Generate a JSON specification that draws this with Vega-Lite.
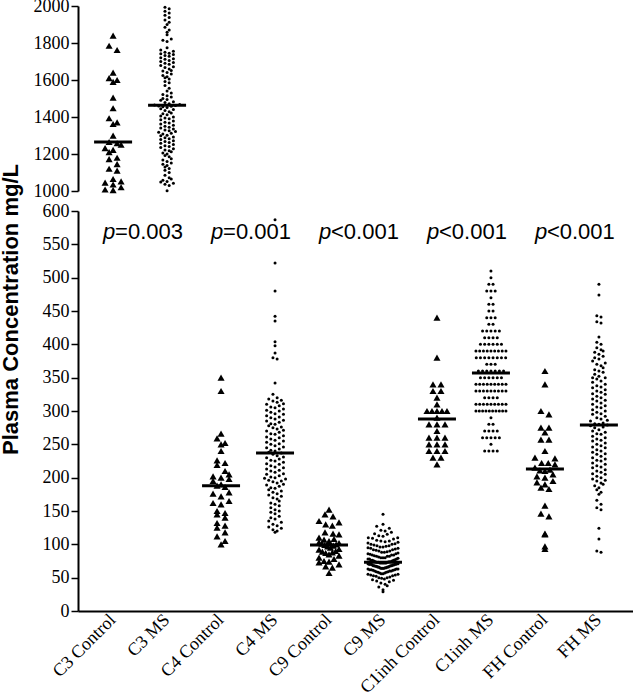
{
"$schema":"https://vega.github.io/schema/vega-lite/v6.json",
"padding":{"left":-2,"top":-3,"right":0,"bottom":0},
"background":"white",
"bounds":"flush",
"config":{"view":{"stroke":null}},
"spacing":20,
"datasets":{
"med":[{"g":"C3 Control","v":1265},{"g":"C3 MS","v":1463},{"g":"C4 Control","v":188},{"g":"C4 MS","v":237},{"g":"C9 Control","v":99},{"g":"C9 MS","v":73},{"g":"C1inh Control","v":288},{"g":"C1inh MS","v":357},{"g":"FH Control","v":213},{"g":"FH MS","v":279}],
"pv":[{"g":"C3 Control","t":"=0.003","v":568},{"g":"C4 Control","t":"=0.001","v":568},{"g":"C9 Control","t":"<0.001","v":568},{"g":"C1inh Control","t":"<0.001","v":568},{"g":"FH Control","t":"<0.001","v":568}],
"pts":[
{"g":"C3 Control","v":1840},{"g":"C3 Control","v":1785},{"g":"C3 Control","v":1762},{"g":"C3 Control","v":1640},{"g":"C3 Control","v":1610},{"g":"C3 Control","v":1600},{"g":"C3 Control","v":1590},{"g":"C3 Control","v":1505},{"g":"C3 Control","v":1447},{"g":"C3 Control","v":1393},{"g":"C3 Control","v":1371},{"g":"C3 Control","v":1362},{"g":"C3 Control","v":1299},{"g":"C3 Control","v":1265},{"g":"C3 Control","v":1258},{"g":"C3 Control","v":1250},{"g":"C3 Control","v":1232},{"g":"C3 Control","v":1222},{"g":"C3 Control","v":1210},{"g":"C3 Control","v":1180},{"g":"C3 Control","v":1172},{"g":"C3 Control","v":1145},{"g":"C3 Control","v":1120},{"g":"C3 Control","v":1110},{"g":"C3 Control","v":1065},{"g":"C3 Control","v":1052},{"g":"C3 Control","v":1045},{"g":"C3 Control","v":1035},{"g":"C3 Control","v":1020},{"g":"C3 Control","v":1008},{"g":"C3 Control","v":1005},
{"g":"C3 MS","v":1993},{"g":"C3 MS","v":1985},{"g":"C3 MS","v":1972},{"g":"C3 MS","v":1962},{"g":"C3 MS","v":1950},{"g":"C3 MS","v":1938},{"g":"C3 MS","v":1925},{"g":"C3 MS","v":1912},{"g":"C3 MS","v":1900},{"g":"C3 MS","v":1885},{"g":"C3 MS","v":1870},{"g":"C3 MS","v":1858},{"g":"C3 MS","v":1845},{"g":"C3 MS","v":1822},{"g":"C3 MS","v":1815},{"g":"C3 MS","v":1808},
{"g":"C3 MS","v":1775},{"g":"C3 MS","v":1762},{"g":"C3 MS","v":1755},{"g":"C3 MS","v":1750},{"g":"C3 MS","v":1745},{"g":"C3 MS","v":1742},{"g":"C3 MS","v":1738},{"g":"C3 MS","v":1732},{"g":"C3 MS","v":1728},{"g":"C3 MS","v":1720},{"g":"C3 MS","v":1715},{"g":"C3 MS","v":1712},{"g":"C3 MS","v":1705},{"g":"C3 MS","v":1700},{"g":"C3 MS","v":1695},{"g":"C3 MS","v":1690},{"g":"C3 MS","v":1685},{"g":"C3 MS","v":1678},{"g":"C3 MS","v":1672},{"g":"C3 MS","v":1668},{"g":"C3 MS","v":1660},{"g":"C3 MS","v":1652},{"g":"C3 MS","v":1648},{"g":"C3 MS","v":1640},{"g":"C3 MS","v":1632},{"g":"C3 MS","v":1625},{"g":"C3 MS","v":1618},{"g":"C3 MS","v":1612},{"g":"C3 MS","v":1605},
{"g":"C3 MS","v":1592},{"g":"C3 MS","v":1585},{"g":"C3 MS","v":1570},{"g":"C3 MS","v":1555},{"g":"C3 MS","v":1540},{"g":"C3 MS","v":1530},{"g":"C3 MS","v":1522},{"g":"C3 MS","v":1515},{"g":"C3 MS","v":1508},{"g":"C3 MS","v":1500},{"g":"C3 MS","v":1495},{"g":"C3 MS","v":1490},{"g":"C3 MS","v":1482},{"g":"C3 MS","v":1478},{"g":"C3 MS","v":1472},{"g":"C3 MS","v":1468},{"g":"C3 MS","v":1465},{"g":"C3 MS","v":1462},{"g":"C3 MS","v":1460},{"g":"C3 MS","v":1458},{"g":"C3 MS","v":1455},{"g":"C3 MS","v":1452},
{"g":"C3 MS","v":1445},{"g":"C3 MS","v":1440},{"g":"C3 MS","v":1435},{"g":"C3 MS","v":1428},{"g":"C3 MS","v":1422},{"g":"C3 MS","v":1418},{"g":"C3 MS","v":1412},{"g":"C3 MS","v":1405},{"g":"C3 MS","v":1400},{"g":"C3 MS","v":1395},{"g":"C3 MS","v":1390},{"g":"C3 MS","v":1385},{"g":"C3 MS","v":1378},{"g":"C3 MS","v":1372},{"g":"C3 MS","v":1368},{"g":"C3 MS","v":1362},{"g":"C3 MS","v":1355},{"g":"C3 MS","v":1350},{"g":"C3 MS","v":1345},{"g":"C3 MS","v":1340},{"g":"C3 MS","v":1335},{"g":"C3 MS","v":1330},{"g":"C3 MS","v":1326},{"g":"C3 MS","v":1322},{"g":"C3 MS","v":1318},{"g":"C3 MS","v":1312},{"g":"C3 MS","v":1308},{"g":"C3 MS","v":1302},{"g":"C3 MS","v":1298},{"g":"C3 MS","v":1292},{"g":"C3 MS","v":1288},{"g":"C3 MS","v":1282},{"g":"C3 MS","v":1278},{"g":"C3 MS","v":1272},{"g":"C3 MS","v":1268},{"g":"C3 MS","v":1262},{"g":"C3 MS","v":1258},{"g":"C3 MS","v":1252},{"g":"C3 MS","v":1245},{"g":"C3 MS","v":1240},{"g":"C3 MS","v":1235},{"g":"C3 MS","v":1228},{"g":"C3 MS","v":1222},{"g":"C3 MS","v":1218},{"g":"C3 MS","v":1212},{"g":"C3 MS","v":1205},{"g":"C3 MS","v":1200},
{"g":"C3 MS","v":1192},{"g":"C3 MS","v":1185},{"g":"C3 MS","v":1175},{"g":"C3 MS","v":1168},{"g":"C3 MS","v":1160},{"g":"C3 MS","v":1152},{"g":"C3 MS","v":1145},{"g":"C3 MS","v":1138},{"g":"C3 MS","v":1130},{"g":"C3 MS","v":1122},{"g":"C3 MS","v":1112},{"g":"C3 MS","v":1100},{"g":"C3 MS","v":1085},{"g":"C3 MS","v":1072},{"g":"C3 MS","v":1065},{"g":"C3 MS","v":1058},{"g":"C3 MS","v":1052},{"g":"C3 MS","v":1048},{"g":"C3 MS","v":1042},{"g":"C3 MS","v":1036},{"g":"C3 MS","v":1030},{"g":"C3 MS","v":1002},
{"g":"C4 Control","v":350},{"g":"C4 Control","v":330},{"g":"C4 Control","v":266},{"g":"C4 Control","v":259},{"g":"C4 Control","v":252},{"g":"C4 Control","v":250},{"g":"C4 Control","v":240},{"g":"C4 Control","v":226},{"g":"C4 Control","v":222},{"g":"C4 Control","v":219},{"g":"C4 Control","v":210},{"g":"C4 Control","v":205},{"g":"C4 Control","v":202},{"g":"C4 Control","v":200},{"g":"C4 Control","v":198},{"g":"C4 Control","v":195},{"g":"C4 Control","v":190},{"g":"C4 Control","v":188},{"g":"C4 Control","v":186},{"g":"C4 Control","v":178},{"g":"C4 Control","v":176},{"g":"C4 Control","v":172},{"g":"C4 Control","v":165},{"g":"C4 Control","v":162},{"g":"C4 Control","v":160},{"g":"C4 Control","v":150},{"g":"C4 Control","v":147},{"g":"C4 Control","v":145},{"g":"C4 Control","v":140},{"g":"C4 Control","v":132},{"g":"C4 Control","v":128},{"g":"C4 Control","v":125},{"g":"C4 Control","v":118},{"g":"C4 Control","v":112},{"g":"C4 Control","v":105},{"g":"C4 Control","v":100},
{"g":"C4 MS","v":587},{"g":"C4 MS","v":522},{"g":"C4 MS","v":480},{"g":"C4 MS","v":442},{"g":"C4 MS","v":435},{"g":"C4 MS","v":404},{"g":"C4 MS","v":398},{"g":"C4 MS","v":387},{"g":"C4 MS","v":380},{"g":"C4 MS","v":378},{"g":"C4 MS","v":342},{"g":"C4 MS","v":325},
{"g":"C4 MS","v":320},{"g":"C4 MS","v":318},{"g":"C4 MS","v":316},{"g":"C4 MS","v":315},{"g":"C4 MS","v":313},{"g":"C4 MS","v":311},{"g":"C4 MS","v":310},{"g":"C4 MS","v":308},{"g":"C4 MS","v":306},{"g":"C4 MS","v":305},{"g":"C4 MS","v":303},{"g":"C4 MS","v":301},{"g":"C4 MS","v":300},{"g":"C4 MS","v":298},{"g":"C4 MS","v":296},{"g":"C4 MS","v":295},{"g":"C4 MS","v":293},{"g":"C4 MS","v":291},{"g":"C4 MS","v":290},{"g":"C4 MS","v":288},{"g":"C4 MS","v":286},{"g":"C4 MS","v":285},{"g":"C4 MS","v":283},{"g":"C4 MS","v":281},{"g":"C4 MS","v":280},{"g":"C4 MS","v":278},{"g":"C4 MS","v":276},{"g":"C4 MS","v":275},{"g":"C4 MS","v":273},{"g":"C4 MS","v":271},{"g":"C4 MS","v":270},{"g":"C4 MS","v":268},{"g":"C4 MS","v":266},{"g":"C4 MS","v":265},{"g":"C4 MS","v":263},{"g":"C4 MS","v":261},{"g":"C4 MS","v":260},{"g":"C4 MS","v":258},{"g":"C4 MS","v":256},{"g":"C4 MS","v":255},{"g":"C4 MS","v":253},{"g":"C4 MS","v":251},{"g":"C4 MS","v":250},{"g":"C4 MS","v":248},{"g":"C4 MS","v":246},{"g":"C4 MS","v":245},{"g":"C4 MS","v":243},{"g":"C4 MS","v":241},{"g":"C4 MS","v":240},{"g":"C4 MS","v":238},{"g":"C4 MS","v":237},{"g":"C4 MS","v":235},{"g":"C4 MS","v":233},{"g":"C4 MS","v":231},{"g":"C4 MS","v":230},{"g":"C4 MS","v":228},{"g":"C4 MS","v":226},{"g":"C4 MS","v":225},{"g":"C4 MS","v":223},{"g":"C4 MS","v":221},{"g":"C4 MS","v":220},{"g":"C4 MS","v":218},{"g":"C4 MS","v":216},{"g":"C4 MS","v":215},{"g":"C4 MS","v":213},{"g":"C4 MS","v":211},{"g":"C4 MS","v":210},{"g":"C4 MS","v":208},{"g":"C4 MS","v":206},{"g":"C4 MS","v":205},{"g":"C4 MS","v":203},{"g":"C4 MS","v":201},{"g":"C4 MS","v":200},
{"g":"C4 MS","v":199},{"g":"C4 MS","v":198},{"g":"C4 MS","v":196},{"g":"C4 MS","v":195},{"g":"C4 MS","v":194},{"g":"C4 MS","v":192},{"g":"C4 MS","v":190},{"g":"C4 MS","v":189},{"g":"C4 MS","v":187},{"g":"C4 MS","v":185},{"g":"C4 MS","v":184},{"g":"C4 MS","v":182},{"g":"C4 MS","v":180},{"g":"C4 MS","v":178},{"g":"C4 MS","v":176},{"g":"C4 MS","v":174},{"g":"C4 MS","v":172},{"g":"C4 MS","v":170},{"g":"C4 MS","v":168},{"g":"C4 MS","v":165},{"g":"C4 MS","v":162},{"g":"C4 MS","v":160},{"g":"C4 MS","v":158},{"g":"C4 MS","v":155},{"g":"C4 MS","v":152},{"g":"C4 MS","v":150},{"g":"C4 MS","v":148},{"g":"C4 MS","v":146},{"g":"C4 MS","v":142},{"g":"C4 MS","v":140},{"g":"C4 MS","v":138},{"g":"C4 MS","v":135},{"g":"C4 MS","v":133},{"g":"C4 MS","v":130},{"g":"C4 MS","v":128},{"g":"C4 MS","v":126},{"g":"C4 MS","v":124},{"g":"C4 MS","v":122},{"g":"C4 MS","v":120},{"g":"C4 MS","v":118},
{"g":"C9 Control","v":152},{"g":"C9 Control","v":145},{"g":"C9 Control","v":142},{"g":"C9 Control","v":135},{"g":"C9 Control","v":133},{"g":"C9 Control","v":130},{"g":"C9 Control","v":128},{"g":"C9 Control","v":118},{"g":"C9 Control","v":116},{"g":"C9 Control","v":115},{"g":"C9 Control","v":110},{"g":"C9 Control","v":108},{"g":"C9 Control","v":107},{"g":"C9 Control","v":105},{"g":"C9 Control","v":103},{"g":"C9 Control","v":102},{"g":"C9 Control","v":101},{"g":"C9 Control","v":100},{"g":"C9 Control","v":99},{"g":"C9 Control","v":98},{"g":"C9 Control","v":97},{"g":"C9 Control","v":95},{"g":"C9 Control","v":93},{"g":"C9 Control","v":92},{"g":"C9 Control","v":90},{"g":"C9 Control","v":89},{"g":"C9 Control","v":88},{"g":"C9 Control","v":87},{"g":"C9 Control","v":85},{"g":"C9 Control","v":83},{"g":"C9 Control","v":80},{"g":"C9 Control","v":78},{"g":"C9 Control","v":75},{"g":"C9 Control","v":74},{"g":"C9 Control","v":73},{"g":"C9 Control","v":70},{"g":"C9 Control","v":67},{"g":"C9 Control","v":65},{"g":"C9 Control","v":57},
{"g":"C9 MS","v":145},{"g":"C9 MS","v":130},{"g":"C9 MS","v":127},{"g":"C9 MS","v":124},{"g":"C9 MS","v":121},{"g":"C9 MS","v":120},{"g":"C9 MS","v":118},{"g":"C9 MS","v":116},{"g":"C9 MS","v":115},{"g":"C9 MS","v":113},{"g":"C9 MS","v":112},{"g":"C9 MS","v":110},{"g":"C9 MS","v":110},{"g":"C9 MS","v":109},{"g":"C9 MS","v":108},{"g":"C9 MS","v":106},{"g":"C9 MS","v":105},{"g":"C9 MS","v":105},{"g":"C9 MS","v":104},{"g":"C9 MS","v":103},{"g":"C9 MS","v":102},{"g":"C9 MS","v":101},{"g":"C9 MS","v":100},{"g":"C9 MS","v":100},{"g":"C9 MS","v":99},{"g":"C9 MS","v":98},{"g":"C9 MS","v":98},{"g":"C9 MS","v":97},{"g":"C9 MS","v":96},{"g":"C9 MS","v":96},{"g":"C9 MS","v":95},{"g":"C9 MS","v":94},{"g":"C9 MS","v":94},{"g":"C9 MS","v":93},{"g":"C9 MS","v":92},{"g":"C9 MS","v":92},{"g":"C9 MS","v":91},{"g":"C9 MS","v":90},{"g":"C9 MS","v":90},{"g":"C9 MS","v":89},{"g":"C9 MS","v":88},{"g":"C9 MS","v":88},{"g":"C9 MS","v":87},{"g":"C9 MS","v":86},{"g":"C9 MS","v":86},{"g":"C9 MS","v":85},{"g":"C9 MS","v":84},{"g":"C9 MS","v":84},{"g":"C9 MS","v":84},{"g":"C9 MS","v":83},{"g":"C9 MS","v":82},{"g":"C9 MS","v":82},{"g":"C9 MS","v":82},{"g":"C9 MS","v":81},{"g":"C9 MS","v":80},{"g":"C9 MS","v":80},{"g":"C9 MS","v":80},{"g":"C9 MS","v":79},{"g":"C9 MS","v":78},{"g":"C9 MS","v":78},{"g":"C9 MS","v":78},{"g":"C9 MS","v":77},{"g":"C9 MS","v":76},{"g":"C9 MS","v":76},{"g":"C9 MS","v":76},{"g":"C9 MS","v":75},{"g":"C9 MS","v":75},{"g":"C9 MS","v":74},{"g":"C9 MS","v":74},{"g":"C9 MS","v":74},{"g":"C9 MS","v":73},{"g":"C9 MS","v":73},{"g":"C9 MS","v":73},{"g":"C9 MS","v":72},{"g":"C9 MS","v":72},{"g":"C9 MS","v":72},{"g":"C9 MS","v":72},{"g":"C9 MS","v":71},{"g":"C9 MS","v":71},{"g":"C9 MS","v":70},{"g":"C9 MS","v":70},{"g":"C9 MS","v":70},{"g":"C9 MS","v":70},{"g":"C9 MS","v":69},{"g":"C9 MS","v":69},{"g":"C9 MS","v":68},{"g":"C9 MS","v":68},{"g":"C9 MS","v":68},{"g":"C9 MS","v":67},{"g":"C9 MS","v":67},{"g":"C9 MS","v":66},{"g":"C9 MS","v":66},{"g":"C9 MS","v":66},{"g":"C9 MS","v":65},{"g":"C9 MS","v":65},{"g":"C9 MS","v":64},{"g":"C9 MS","v":64},{"g":"C9 MS","v":64},{"g":"C9 MS","v":63},{"g":"C9 MS","v":63},{"g":"C9 MS","v":62},{"g":"C9 MS","v":62},{"g":"C9 MS","v":62},{"g":"C9 MS","v":61},{"g":"C9 MS","v":60},{"g":"C9 MS","v":60},{"g":"C9 MS","v":60},{"g":"C9 MS","v":59},{"g":"C9 MS","v":58},{"g":"C9 MS","v":58},{"g":"C9 MS","v":57},{"g":"C9 MS","v":56},{"g":"C9 MS","v":56},{"g":"C9 MS","v":55},{"g":"C9 MS","v":54},{"g":"C9 MS","v":54},{"g":"C9 MS","v":53},{"g":"C9 MS","v":52},{"g":"C9 MS","v":51},{"g":"C9 MS","v":50},{"g":"C9 MS","v":49},{"g":"C9 MS","v":48},{"g":"C9 MS","v":46},{"g":"C9 MS","v":44},{"g":"C9 MS","v":42},{"g":"C9 MS","v":36},{"g":"C9 MS","v":32},{"g":"C9 MS","v":29},{"g":"C9 MS","v":72},{"g":"C9 MS","v":71},{"g":"C9 MS","v":70},{"g":"C9 MS","v":69},{"g":"C9 MS","v":68},{"g":"C9 MS","v":67},{"g":"C9 MS","v":66},{"g":"C9 MS","v":65},{"g":"C9 MS","v":64},{"g":"C9 MS","v":63},{"g":"C9 MS","v":61},{"g":"C9 MS","v":59},{"g":"C9 MS","v":57},{"g":"C9 MS","v":55},{"g":"C9 MS","v":53},{"g":"C9 MS","v":50},{"g":"C9 MS","v":47},{"g":"C9 MS","v":45},{"g":"C9 MS","v":40},{"g":"C9 MS","v":38},
{"g":"C1inh Control","v":440},{"g":"C1inh Control","v":380},{"g":"C1inh Control","v":340},{"g":"C1inh Control","v":340},{"g":"C1inh Control","v":330},{"g":"C1inh Control","v":330},{"g":"C1inh Control","v":320},{"g":"C1inh Control","v":310},{"g":"C1inh Control","v":300},{"g":"C1inh Control","v":300},{"g":"C1inh Control","v":300},{"g":"C1inh Control","v":300},{"g":"C1inh Control","v":300},{"g":"C1inh Control","v":290},{"g":"C1inh Control","v":280},{"g":"C1inh Control","v":280},{"g":"C1inh Control","v":280},{"g":"C1inh Control","v":270},{"g":"C1inh Control","v":260},{"g":"C1inh Control","v":260},{"g":"C1inh Control","v":260},{"g":"C1inh Control","v":250},{"g":"C1inh Control","v":250},{"g":"C1inh Control","v":250},{"g":"C1inh Control","v":240},{"g":"C1inh Control","v":240},{"g":"C1inh Control","v":240},{"g":"C1inh Control","v":230},{"g":"C1inh Control","v":230},{"g":"C1inh Control","v":220},
{"g":"C1inh MS","v":510},{"g":"C1inh MS","v":500},{"g":"C1inh MS","v":490},{"g":"C1inh MS","v":490},{"g":"C1inh MS","v":480},{"g":"C1inh MS","v":480},{"g":"C1inh MS","v":480},{"g":"C1inh MS","v":470},{"g":"C1inh MS","v":460},{"g":"C1inh MS","v":460},{"g":"C1inh MS","v":450},{"g":"C1inh MS","v":450},{"g":"C1inh MS","v":440},{"g":"C1inh MS","v":440},{"g":"C1inh MS","v":440},{"g":"C1inh MS","v":430},{"g":"C1inh MS","v":430},{"g":"C1inh MS","v":420},{"g":"C1inh MS","v":420},{"g":"C1inh MS","v":420},{"g":"C1inh MS","v":420},{"g":"C1inh MS","v":420},{"g":"C1inh MS","v":410},{"g":"C1inh MS","v":410},{"g":"C1inh MS","v":410},{"g":"C1inh MS","v":410},{"g":"C1inh MS","v":400},{"g":"C1inh MS","v":400},{"g":"C1inh MS","v":400},{"g":"C1inh MS","v":400},{"g":"C1inh MS","v":400},{"g":"C1inh MS","v":400},{"g":"C1inh MS","v":390},{"g":"C1inh MS","v":390},{"g":"C1inh MS","v":390},{"g":"C1inh MS","v":390},{"g":"C1inh MS","v":390},{"g":"C1inh MS","v":390},{"g":"C1inh MS","v":390},{"g":"C1inh MS","v":390},{"g":"C1inh MS","v":390},{"g":"C1inh MS","v":380},{"g":"C1inh MS","v":380},{"g":"C1inh MS","v":380},{"g":"C1inh MS","v":380},{"g":"C1inh MS","v":380},{"g":"C1inh MS","v":380},{"g":"C1inh MS","v":380},{"g":"C1inh MS","v":380},{"g":"C1inh MS","v":370},{"g":"C1inh MS","v":370},{"g":"C1inh MS","v":370},{"g":"C1inh MS","v":360},{"g":"C1inh MS","v":360},{"g":"C1inh MS","v":360},{"g":"C1inh MS","v":360},{"g":"C1inh MS","v":360},{"g":"C1inh MS","v":360},{"g":"C1inh MS","v":360},{"g":"C1inh MS","v":350},{"g":"C1inh MS","v":350},{"g":"C1inh MS","v":350},{"g":"C1inh MS","v":350},{"g":"C1inh MS","v":350},{"g":"C1inh MS","v":350},{"g":"C1inh MS","v":340},{"g":"C1inh MS","v":340},{"g":"C1inh MS","v":340},{"g":"C1inh MS","v":340},{"g":"C1inh MS","v":340},{"g":"C1inh MS","v":340},{"g":"C1inh MS","v":340},{"g":"C1inh MS","v":340},{"g":"C1inh MS","v":340},{"g":"C1inh MS","v":330},{"g":"C1inh MS","v":330},{"g":"C1inh MS","v":330},{"g":"C1inh MS","v":330},{"g":"C1inh MS","v":330},{"g":"C1inh MS","v":330},{"g":"C1inh MS","v":330},{"g":"C1inh MS","v":330},{"g":"C1inh MS","v":330},{"g":"C1inh MS","v":320},{"g":"C1inh MS","v":320},{"g":"C1inh MS","v":320},{"g":"C1inh MS","v":320},{"g":"C1inh MS","v":310},{"g":"C1inh MS","v":310},{"g":"C1inh MS","v":310},{"g":"C1inh MS","v":310},{"g":"C1inh MS","v":310},{"g":"C1inh MS","v":310},{"g":"C1inh MS","v":310},{"g":"C1inh MS","v":310},{"g":"C1inh MS","v":310},{"g":"C1inh MS","v":300},{"g":"C1inh MS","v":300},{"g":"C1inh MS","v":300},{"g":"C1inh MS","v":300},{"g":"C1inh MS","v":300},{"g":"C1inh MS","v":300},{"g":"C1inh MS","v":300},{"g":"C1inh MS","v":300},{"g":"C1inh MS","v":300},{"g":"C1inh MS","v":300},{"g":"C1inh MS","v":290},{"g":"C1inh MS","v":280},{"g":"C1inh MS","v":280},{"g":"C1inh MS","v":270},{"g":"C1inh MS","v":270},{"g":"C1inh MS","v":270},{"g":"C1inh MS","v":270},{"g":"C1inh MS","v":260},{"g":"C1inh MS","v":260},{"g":"C1inh MS","v":260},{"g":"C1inh MS","v":260},{"g":"C1inh MS","v":260},{"g":"C1inh MS","v":250},{"g":"C1inh MS","v":240},{"g":"C1inh MS","v":240},{"g":"C1inh MS","v":240},{"g":"C1inh MS","v":240},
{"g":"FH Control","v":360},{"g":"FH Control","v":340},{"g":"FH Control","v":300},{"g":"FH Control","v":295},{"g":"FH Control","v":275},{"g":"FH Control","v":275},{"g":"FH Control","v":268},{"g":"FH Control","v":257},{"g":"FH Control","v":257},{"g":"FH Control","v":240},{"g":"FH Control","v":230},{"g":"FH Control","v":229},{"g":"FH Control","v":222},{"g":"FH Control","v":222},{"g":"FH Control","v":220},{"g":"FH Control","v":215},{"g":"FH Control","v":212},{"g":"FH Control","v":211},{"g":"FH Control","v":210},{"g":"FH Control","v":205},{"g":"FH Control","v":202},{"g":"FH Control","v":200},{"g":"FH Control","v":195},{"g":"FH Control","v":193},{"g":"FH Control","v":190},{"g":"FH Control","v":185},{"g":"FH Control","v":183},{"g":"FH Control","v":158},{"g":"FH Control","v":146},{"g":"FH Control","v":142},{"g":"FH Control","v":116},{"g":"FH Control","v":115},{"g":"FH Control","v":97},{"g":"FH Control","v":93},
{"g":"FH MS","v":490},{"g":"FH MS","v":474},{"g":"FH MS","v":443},{"g":"FH MS","v":441},{"g":"FH MS","v":434},{"g":"FH MS","v":432},{"g":"FH MS","v":411},{"g":"FH MS","v":403},{"g":"FH MS","v":400},{"g":"FH MS","v":395},{"g":"FH MS","v":392},{"g":"FH MS","v":390},{"g":"FH MS","v":388},{"g":"FH MS","v":385},{"g":"FH MS","v":382},{"g":"FH MS","v":380},{"g":"FH MS","v":378},{"g":"FH MS","v":375},{"g":"FH MS","v":372},{"g":"FH MS","v":370},{"g":"FH MS","v":368},{"g":"FH MS","v":365},{"g":"FH MS","v":362},{"g":"FH MS","v":360},{"g":"FH MS","v":358},{"g":"FH MS","v":355},{"g":"FH MS","v":352},{"g":"FH MS","v":350},{"g":"FH MS","v":350},{"g":"FH MS","v":348},{"g":"FH MS","v":345},{"g":"FH MS","v":343},{"g":"FH MS","v":340},{"g":"FH MS","v":338},{"g":"FH MS","v":336},{"g":"FH MS","v":335},{"g":"FH MS","v":332},{"g":"FH MS","v":330},{"g":"FH MS","v":328},{"g":"FH MS","v":326},{"g":"FH MS","v":325},{"g":"FH MS","v":322},{"g":"FH MS","v":320},{"g":"FH MS","v":318},{"g":"FH MS","v":316},{"g":"FH MS","v":315},{"g":"FH MS","v":312},{"g":"FH MS","v":310},{"g":"FH MS","v":308},{"g":"FH MS","v":306},{"g":"FH MS","v":305},{"g":"FH MS","v":302},{"g":"FH MS","v":300},{"g":"FH MS","v":298},{"g":"FH MS","v":296},{"g":"FH MS","v":295},{"g":"FH MS","v":292},{"g":"FH MS","v":290},{"g":"FH MS","v":288},{"g":"FH MS","v":286},{"g":"FH MS","v":285},{"g":"FH MS","v":282},{"g":"FH MS","v":281},{"g":"FH MS","v":280},{"g":"FH MS","v":279},{"g":"FH MS","v":278},{"g":"FH MS","v":276},{"g":"FH MS","v":275},{"g":"FH MS","v":272},{"g":"FH MS","v":270},{"g":"FH MS","v":268},{"g":"FH MS","v":266},{"g":"FH MS","v":265},{"g":"FH MS","v":262},{"g":"FH MS","v":260},{"g":"FH MS","v":258},{"g":"FH MS","v":256},{"g":"FH MS","v":255},{"g":"FH MS","v":252},{"g":"FH MS","v":250},{"g":"FH MS","v":248},{"g":"FH MS","v":246},{"g":"FH MS","v":245},{"g":"FH MS","v":242},{"g":"FH MS","v":240},{"g":"FH MS","v":238},{"g":"FH MS","v":236},{"g":"FH MS","v":235},{"g":"FH MS","v":232},{"g":"FH MS","v":230},{"g":"FH MS","v":228},{"g":"FH MS","v":226},{"g":"FH MS","v":225},{"g":"FH MS","v":222},{"g":"FH MS","v":220},{"g":"FH MS","v":218},{"g":"FH MS","v":216},{"g":"FH MS","v":215},{"g":"FH MS","v":212},{"g":"FH MS","v":210},{"g":"FH MS","v":208},{"g":"FH MS","v":206},{"g":"FH MS","v":205},{"g":"FH MS","v":202},{"g":"FH MS","v":200},{"g":"FH MS","v":198},{"g":"FH MS","v":196},{"g":"FH MS","v":195},{"g":"FH MS","v":192},{"g":"FH MS","v":190},{"g":"FH MS","v":188},{"g":"FH MS","v":185},{"g":"FH MS","v":182},{"g":"FH MS","v":178},{"g":"FH MS","v":175},{"g":"FH MS","v":166},{"g":"FH MS","v":160},{"g":"FH MS","v":155},{"g":"FH MS","v":152},{"g":"FH MS","v":124},{"g":"FH MS","v":108},{"g":"FH MS","v":90},{"g":"FH MS","v":88}
]},
"vconcat":[
{"width":556,"height":185,
"encoding":{
"x":{"field":"g","type":"nominal","scale":{"domain":["C3 Control","C3 MS","C4 Control","C4 MS","C9 Control","C9 MS","C1inh Control","C1inh MS","FH Control","FH MS"],"paddingInner":0,"paddingOuter":0.15},"axis":null},
"y":{"field":"v","type":"quantitative","scale":{"domain":[1000,2000],"nice":false,"zero":false},"axis":{"values":[1000,1200,1400,1600,1800,2000],"tickCount":6,"format":"d","labelOverlap":false,"title":null,"grid":false,"domainColor":"black","domainWidth":2,"tickColor":"black","tickWidth":1.5,"tickSize":7,"labelFont":"Liberation Serif","labelFontSize":18,"labelColor":"black","labelPadding":2}}
},
"layer":[
{"data":{"name":"pts"},
"transform":[
{"filter":"datum.v >= 1000"},
{"calculate":"indexof(datum.g,'Control') >= 0 ? 1 : 0","as":"c"},
{"calculate":"floor(datum.v / (datum.c ? 38 : 21))","as":"b"},
{"joinaggregate":[{"op":"count","as":"n"}],"groupby":["g","b"]},
{"window":[{"op":"row_number","as":"r"}],"groupby":["g","b"],"sort":[{"field":"v","order":"ascending"}]},
{"calculate":"((datum.r % 2 == 0 ? -1 : 1) * floor(datum.r / 2) + (datum.n % 2 == 0 ? 0.5 : 0)) * (datum.c ? min(8, 20 / max(datum.n - 1, 1)) : min(4.2, 30 / max(datum.n - 1, 1)))","as":"off"}
],
"mark":{"type":"point","filled":true,"opacity":1,"color":"black","strokeWidth":0},
"encoding":{
"xOffset":{"field":"off","type":"quantitative","scale":{"domain":[-27,27],"range":[0,54]}},
"shape":{"condition":{"test":"datum.c == 1","value":"triangle-up"},"value":"circle"},
"size":{"condition":{"test":"datum.c == 1","value":50},"value":9}
}},
{"data":{"name":"med"},
"transform":[{"filter":"datum.v >= 1000"}],
"mark":{"type":"tick","thickness":3,"size":38,"color":"black","opacity":1}}
]},
{"width":556,"height":400,
"encoding":{
"x":{"field":"g","type":"nominal","scale":{"domain":["C3 Control","C3 MS","C4 Control","C4 MS","C9 Control","C9 MS","C1inh Control","C1inh MS","FH Control","FH MS"],"paddingInner":0,"paddingOuter":0.15},"axis":{"title":null,"ticks":false,"grid":false,"domainColor":"black","domainWidth":2,"labelAngle":-45,"labelAlign":"right","labelBaseline":"middle","labelPadding":6,"labelFont":"Liberation Serif","labelFontSize":18,"labelColor":"black"}},
"y":{"field":"v","type":"quantitative","scale":{"domain":[0,600],"nice":false,"zero":false},"axis":{"values":[0,50,100,150,200,250,300,350,400,450,500,550,600],"tickCount":13,"format":"d","labelOverlap":false,"grid":false,"domainColor":"black","domainWidth":2,"tickColor":"black","tickWidth":1.5,"tickSize":7,"labelFont":"Liberation Serif","labelFontSize":18,"labelColor":"black","labelPadding":2,"title":"Plasma Concentration mg/L","titleFont":"Liberation Sans","titleFontSize":22,"titleFontWeight":"bold","titleColor":"black","titleAngle":-90,"titleAlign":"center","titleBaseline":"alphabetic","titleX":-61,"titleY":98}}
},
"layer":[
{"data":{"name":"pts"},
"transform":[
{"filter":"datum.v <= 600"},
{"calculate":"indexof(datum.g,'Control') >= 0 ? 1 : 0","as":"c"},
{"calculate":"floor(datum.v / (datum.c ? 10.5 : 8))","as":"b"},
{"joinaggregate":[{"op":"count","as":"n"}],"groupby":["g","b"]},
{"window":[{"op":"row_number","as":"r"}],"groupby":["g","b"],"sort":[{"field":"v","order":"ascending"}]},
{"calculate":"((datum.r % 2 == 0 ? -1 : 1) * floor(datum.r / 2) + (datum.n % 2 == 0 ? 0.5 : 0)) * (datum.c ? min(8, 20 / max(datum.n - 1, 1)) : min(4.2, 30 / max(datum.n - 1, 1)))","as":"off"}
],
"mark":{"type":"point","filled":true,"opacity":1,"color":"black","strokeWidth":0},
"encoding":{
"xOffset":{"field":"off","type":"quantitative","scale":{"domain":[-27,27],"range":[0,54]}},
"shape":{"condition":{"test":"datum.c == 1","value":"triangle-up"},"value":"circle"},
"size":{"condition":{"test":"datum.c == 1","value":50},"value":9}
}},
{"data":{"name":"med"},
"transform":[{"filter":"datum.v <= 600"}],
"mark":{"type":"tick","thickness":3,"size":38,"color":"black","opacity":1}},
{"data":{"name":"pv"},
"mark":{"type":"text","font":"Liberation Sans","fontSize":22,"fontStyle":"italic","align":"left","baseline":"middle","dx":-37,"color":"black"},
"encoding":{
"x":{"field":"g","type":"nominal","bandPosition":1},
"text":{"value":"p"}
}},
{"data":{"name":"pv"},
"mark":{"type":"text","font":"Liberation Sans","fontSize":22,"align":"left","baseline":"middle","dx":-25,"color":"black"},
"encoding":{
"x":{"field":"g","type":"nominal","bandPosition":1},
"text":{"field":"t"}
}}
]}
]
}
